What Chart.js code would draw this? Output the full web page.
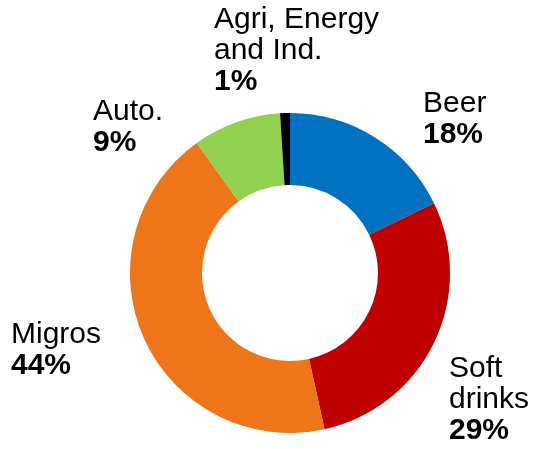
<!DOCTYPE html>
<html>
<head>
<meta charset="utf-8">
<script src="https://cdn.jsdelivr.net/npm/chart.js@4/dist/chart.umd.min.js"></script>
<style>
  html, body { margin: 0; padding: 0; background: #fff; }
  #wrap { width: 535px; height: 449px; position: relative; }
</style>
</head>
<body>
<div id="wrap"><canvas id="donut"></canvas></div>
<script>
// --- Data ---
const segmentNames = [['Beer'], ['Soft', 'drinks'], ['Migros'], ['Auto.'], ['Agri, Energy', 'and Ind.']];
const segmentShares = [18, 29, 44, 9, 1];
const segmentColors = ['#0070C0', '#C00000', '#EE7518', '#92D050', '#000000'];

// label anchor (left x, first baseline) relative to donut centre
const labelOffsets = [
    { dx: 133, dy: -161 },
    { dx: 159, dy: 104 },
    { dx: -279, dy: 70 },
    { dx: -197, dy: -153 },
    { dx: -76, dy: -245 }
];

const FONT = '"Liberation Sans", Arial, sans-serif';
const LINE = 31;

// --- Plugin label luar ---
const outsideLabels = {
    id: 'outsideLabels',
    afterDraw(chart) {
        const ctx = chart.ctx;
        const arc = chart.getDatasetMeta(0).data[0];
        const cx = arc.x, cy = arc.y;
        ctx.save();
        ctx.fillStyle = '#000';
        ctx.textAlign = 'left';
        ctx.textBaseline = 'alphabetic';
        segmentNames.forEach((lines, i) => {
            const x = cx + labelOffsets[i].dx;
            let y = cy + labelOffsets[i].dy;
            ctx.font = '30px ' + FONT;
            lines.forEach(t => { ctx.fillText(t, x, y); y += LINE; });
            ctx.font = 'bold 30px ' + FONT;
            ctx.fillText(Math.round(segmentShares[i]) + '%', x, y);
        });
        ctx.restore();
    }
};

new Chart(document.getElementById('donut'), {
    type: 'doughnut',
    data: {
        labels: segmentNames.map(l => l.join(' ')),
        datasets: [{
            data: segmentShares,
            backgroundColor: segmentColors,
            borderWidth: 0
        }]
    },
    options: {
        responsive: true,
        maintainAspectRatio: false,
        animation: false,
        cutout: '55%',
        layout: { padding: { left: 130, right: 85, top: 113, bottom: 16 } },
        plugins: {
            legend: { display: false },
            tooltip: { enabled: false }
        }
    },
    plugins: [outsideLabels]
});
</script>
</body>
</html>
